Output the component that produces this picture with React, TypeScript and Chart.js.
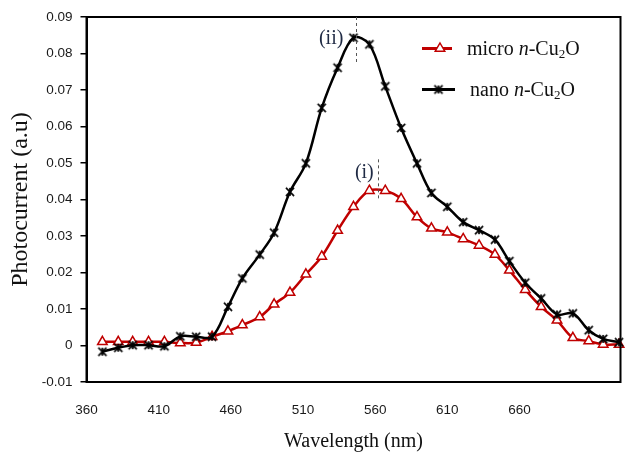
import React, { useEffect, useRef } from 'react';
import { Chart, registerables } from 'chart.js';

Chart.register(...registerables);

// ---- data ----
const wavelengths = [371, 382, 392, 403, 414, 425, 436, 447, 458, 468, 480, 490, 501, 512, 523, 534, 545, 556, 567, 578, 589, 599, 610, 621, 632, 643, 653, 664, 675, 686, 697, 708, 718, 729];
const microValues = [0.0010, 0.0010, 0.0010, 0.0010, 0.0010, 0.0007, 0.0008, 0.0024, 0.0039, 0.0056, 0.0078, 0.0113, 0.0145, 0.0195, 0.0244, 0.0315, 0.0380, 0.0424, 0.0424, 0.0402, 0.0352, 0.0321, 0.0310, 0.0292, 0.0274, 0.0249, 0.0206, 0.0153, 0.0106, 0.0069, 0.0021, 0.0012, 0.0003, 0.0003];
const nanoValues = [-0.0017, -0.0006, 0.0001, 0.0001, -0.0002, 0.0025, 0.0024, 0.0024, 0.0106, 0.0184, 0.0249, 0.0309, 0.0421, 0.0499, 0.0651, 0.0761, 0.0843, 0.0825, 0.0710, 0.0596, 0.0499, 0.0418, 0.0380, 0.0338, 0.0316, 0.0290, 0.0231, 0.0172, 0.0129, 0.0085, 0.0088, 0.0042, 0.0018, 0.0009];
const xTickValues = [360, 410, 460, 510, 560, 610, 660];
const xMin = 360;
const xMax = 730;
const yMin = -0.01;
const yMax = 0.09;
const yStep = 0.01;
const seriesNames = ['micro', 'nano'];
const peakTexts = ['(ii)', '(i)'];
const peakLineX = [547, 562];
const peakLineYFrom = [0.077, 0.040];
const peakLineYTo = [0.09, 0.051];
const peakTextX = [529.5, 552.5];
const peakTextY = [0.0841, 0.0474];

const RED = '#c00000';
const SERIF = '"Liberation Serif", "DejaVu Serif", serif';
const SANS = '"Liberation Sans", Arial, sans-serif';

function makeStar(size: number, lw: number): HTMLCanvasElement {
  const c = document.createElement('canvas');
  c.width = size;
  c.height = size;
  const g = c.getContext('2d')!;
  g.strokeStyle = '#000';
  g.lineWidth = lw;
  const m = size / 2;
  const r = size / 2 - 0.8;
  const d = r * 0.78;
  g.beginPath();
  g.moveTo(m - d, m - d); g.lineTo(m + d, m + d);
  g.moveTo(m + d, m - d); g.lineTo(m - d, m + d);
  g.moveTo(m, m - r * 0.75); g.lineTo(m, m + r * 0.75);
  g.stroke();
  return c;
}

function drawLegendText(ctx: CanvasRenderingContext2D, x: number, y: number, first: string) {
  const size = 20;
  ctx.save();
  ctx.fillStyle = '#111';
  ctx.textBaseline = 'alphabetic';
  ctx.textAlign = 'left';
  let cx = x;
  const seg = (t: string, font: string, dy = 0) => {
    ctx.font = font;
    ctx.fillText(t, cx, y + dy);
    cx += ctx.measureText(t).width;
  };
  seg(first + ' ', `${size}px ${SERIF}`);
  seg('n', `italic ${size}px ${SERIF}`);
  seg('-Cu', `${size}px ${SERIF}`);
  seg('2', `${Math.round(size * 0.65)}px ${SERIF}`, 3);
  seg('O', `${size}px ${SERIF}`);
  ctx.restore();
}

export default function App() {
  const ref = useRef<HTMLCanvasElement | null>(null);

  useEffect(() => {
    document.body.style.margin = '0';
    const canvas = ref.current;
    if (!canvas) return;
    const star = makeStar(12, 1.7);

    const overlay = {
      id: 'overlay',
      afterDatasetsDraw(chart: any) {
        const { ctx, chartArea: a, scales } = chart;
        const xs = scales.x;
        const ys = scales.y;
        ctx.save();
        // plot box
        ctx.strokeStyle = '#000';
        ctx.lineWidth = 2;
        ctx.strokeRect(a.left, a.top, a.right - a.left, a.bottom - a.top);

        // peak markers
        ctx.setLineDash([3, 3]);
        ctx.lineWidth = 1;
        ctx.strokeStyle = '#555';
        for (let i = 0; i < peakLineX.length; i++) {
          const px = Math.round(xs.getPixelForValue(peakLineX[i])) + 0.5;
          ctx.beginPath();
          ctx.moveTo(px, ys.getPixelForValue(peakLineYTo[i]));
          ctx.lineTo(px, ys.getPixelForValue(peakLineYFrom[i]));
          ctx.stroke();
        }
        ctx.setLineDash([]);
        ctx.fillStyle = '#1f2a44';
        ctx.font = `20px ${SERIF}`;
        ctx.textAlign = 'center';
        ctx.textBaseline = 'middle';
        for (let i = 0; i < peakTexts.length; i++) {
          ctx.fillText(peakTexts[i], xs.getPixelForValue(peakTextX[i]), ys.getPixelForValue(peakTextY[i]));
        }

        // legend
        ctx.lineWidth = 3;
        ctx.strokeStyle = RED;
        ctx.beginPath();
        ctx.moveTo(422, 48.5);
        ctx.lineTo(452, 48.5);
        ctx.stroke();
        ctx.lineWidth = 1.5;
        ctx.fillStyle = '#fff';
        const tx = 440, ty = 48.5, tr = 5.5;
        ctx.beginPath();
        ctx.moveTo(tx, ty - tr);
        ctx.lineTo(tx + tr * 0.866, ty + tr * 0.5);
        ctx.lineTo(tx - tr * 0.866, ty + tr * 0.5);
        ctx.closePath();
        ctx.fill();
        ctx.stroke();

        ctx.lineWidth = 3;
        ctx.strokeStyle = '#000';
        ctx.beginPath();
        ctx.moveTo(422, 89.5);
        ctx.lineTo(455, 89.5);
        ctx.stroke();
        ctx.drawImage(star, 438.5 - 6, 89.5 - 6);

        drawLegendText(ctx, 467, 55, seriesNames[0]);
        drawLegendText(ctx, 470, 96, seriesNames[1]);
        ctx.restore();
      },
    };

    const chart = new Chart(canvas, {
      type: 'line',
      data: {
        datasets: [
          {
            label: seriesNames[0],
            data: wavelengths.map((w, i) => ({ x: w, y: microValues[i] })),
            borderColor: RED,
            borderWidth: 2.5,
            backgroundColor: '#ffffff',
            pointStyle: 'triangle',
            pointRadius: 5.5,
            pointBorderWidth: 1.5,
            pointBorderColor: RED,
            pointBackgroundColor: '#ffffff',
            tension: 0.35,
            clip: false,
            order: 2,
          },
          {
            label: seriesNames[1],
            data: wavelengths.map((w, i) => ({ x: w, y: nanoValues[i] })),
            borderColor: '#000',
            borderWidth: 2.5,
            pointStyle: star,
            pointRadius: 6,
            tension: 0.35,
            clip: false,
            order: 1,
          },
        ],
      },
      options: {
        animation: false,
        responsive: true,
        maintainAspectRatio: false,
        layout: { padding: { top: 17, right: 6, left: 0, bottom: 0 } },
        plugins: { legend: { display: false }, tooltip: { enabled: false } },
        scales: {
          x: {
            type: 'linear',
            min: xMin,
            max: xMax,
            afterBuildTicks: (scale: any) => {
              scale.ticks = xTickValues.map((v) => ({ value: v }));
            },
            afterFit: (scale: any) => {
              scale.height = 72;
            },
            grid: { display: true, drawOnChartArea: false, drawTicks: false },
            border: { display: true, color: '#000', width: 2 },
            ticks: {
              padding: 20,
              color: '#1a1a1a',
              font: { family: SANS, size: 13.5 },
              maxRotation: 0,
              autoSkip: false,
              callback: (v: any) => String(v),
            },
            title: {
              display: true,
              text: 'Wavelength (nm)',
              color: '#111',
              font: { family: SERIF, size: 20 },
              padding: { top: 0, bottom: 0 },
            },
          },
          y: {
            type: 'linear',
            min: yMin,
            max: yMax,
            afterFit: (scale: any) => {
              scale.width = 86.5;
            },
            grid: { display: true, drawOnChartArea: false, drawTicks: true, tickLength: 6, color: '#000', lineWidth: 1.5 },
            border: { display: true, color: '#000', width: 2 },
            ticks: {
              stepSize: yStep,
              padding: 8,
              color: '#1a1a1a',
              font: { family: SANS, size: 13.5 },
              callback: (v: any) => {
                const n = Number(v);
                if (Math.abs(n) < 1e-9) return '0';
                return String(Math.round(n * 100) / 100);
              },
            },
            title: {
              display: true,
              text: 'Photocurrent (a.u)',
              color: '#111',
              font: { family: SERIF, size: 24 },
              padding: { top: 6, bottom: 0 },
            },
          },
        },
      },
      plugins: [overlay],
    } as any);

    return () => {
      chart.destroy();
    };
  }, []);

  return (
    <div style={{ position: 'relative', width: 629, height: 454, background: '#fff' }}>
      <canvas ref={ref} />
    </div>
  );
}
